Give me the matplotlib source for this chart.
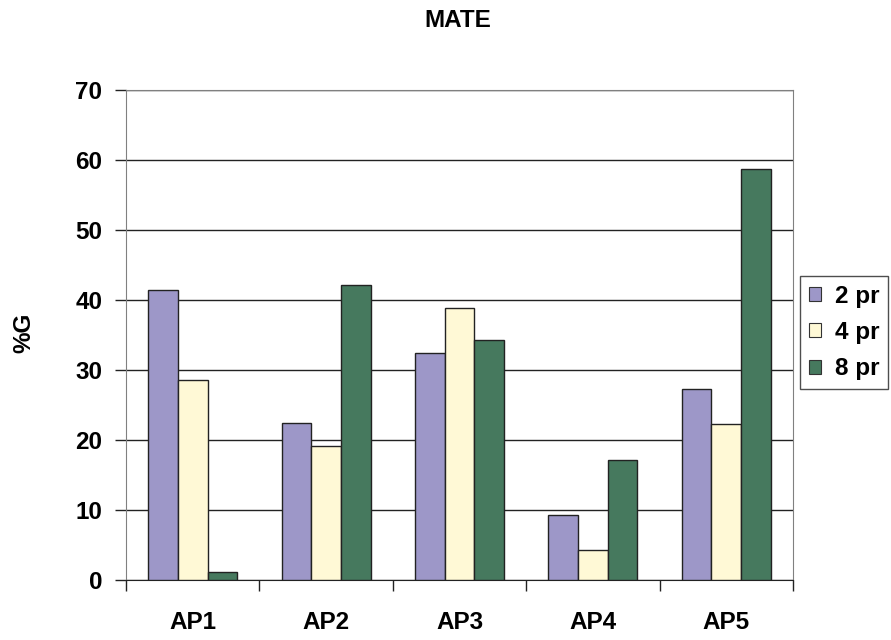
import numpy as np
import matplotlib.pyplot as plt
from matplotlib.patches import Patch

categories = ["AP1", "AP2", "AP3", "AP4", "AP5"]
series = ["2 pr", "4 pr", "8 pr"]
pr2 = [41.4, 22.5, 32.4, 9.3, 27.3]
pr4 = [28.6, 19.1, 38.8, 4.3, 22.3]
pr8 = [1.2, 42.2, 34.3, 17.1, 58.7]
colors = ["#9d97c8", "#fff9d6", "#46795e"]

plt.rcParams['font.family'] = ['Liberation Sans', 'DejaVu Sans']
plt.rcParams['font.weight'] = 'bold'
fs = 17.5

fig = plt.figure(figsize=(8.91, 6.40), dpi=100)
ax = fig.add_axes([0.1414, 0.09375, 0.7486, 0.7656])

x = np.arange(len(categories)) + 0.5
w = 1 / 4.5
for i, (vals, c) in enumerate(zip([pr2, pr4, pr8], colors)):
    ax.bar(x + (i - 1) * w, vals, width=w, color=c, edgecolor="#222222",
           linewidth=1.0, zorder=3)

ax.set_xlim(0, 5)
ax.set_ylim(0, 70)
ax.set_yticks(range(0, 71, 10))
ax.tick_params(axis='y', labelsize=fs, length=8, width=1, color="#222222", pad=9)
ax.yaxis.grid(True, color="#222222", linewidth=1, zorder=0)

# category boundaries get the tick marks, labels sit in the middle
ax.set_xticks(range(0, 6))
ax.set_xticklabels([])
ax.set_xticks(x, minor=True)
ax.set_xticklabels(categories, minor=True)
ax.tick_params(axis='x', which='major', length=8, width=1, color="#222222")
ax.tick_params(axis='x', which='minor', length=0, labelsize=fs, pad=22)

for s in ['left', 'top', 'right']:
    ax.spines[s].set_color("#808080")
ax.spines['bottom'].set_color("#222222")

fig.text(24 / 891, 1 - 333 / 640, "%G", fontsize=fs, fontweight='bold',
         rotation=90, ha='center', va='center')
fig.text(457.5 / 891, 1 - 20.5 / 640, "MATE", fontsize=fs, fontweight='bold',
         ha='center', va='center')

handles = [Patch(facecolor=c, edgecolor="#333333", linewidth=0.8) for c in colors]
leg = fig.legend(handles, series, loc='upper left',
                 bbox_to_anchor=(800 / 891, 1 - 276 / 640), fontsize=fs,
                 frameon=True, fancybox=False, handlelength=0.5,
                 handleheight=0.5, handletextpad=0.6, labelspacing=0.55,
                 borderpad=0.35, borderaxespad=0)
leg.get_frame().set_edgecolor("#222222")
leg.get_frame().set_linewidth(1)

fig.savefig("out.png", dpi=100)
